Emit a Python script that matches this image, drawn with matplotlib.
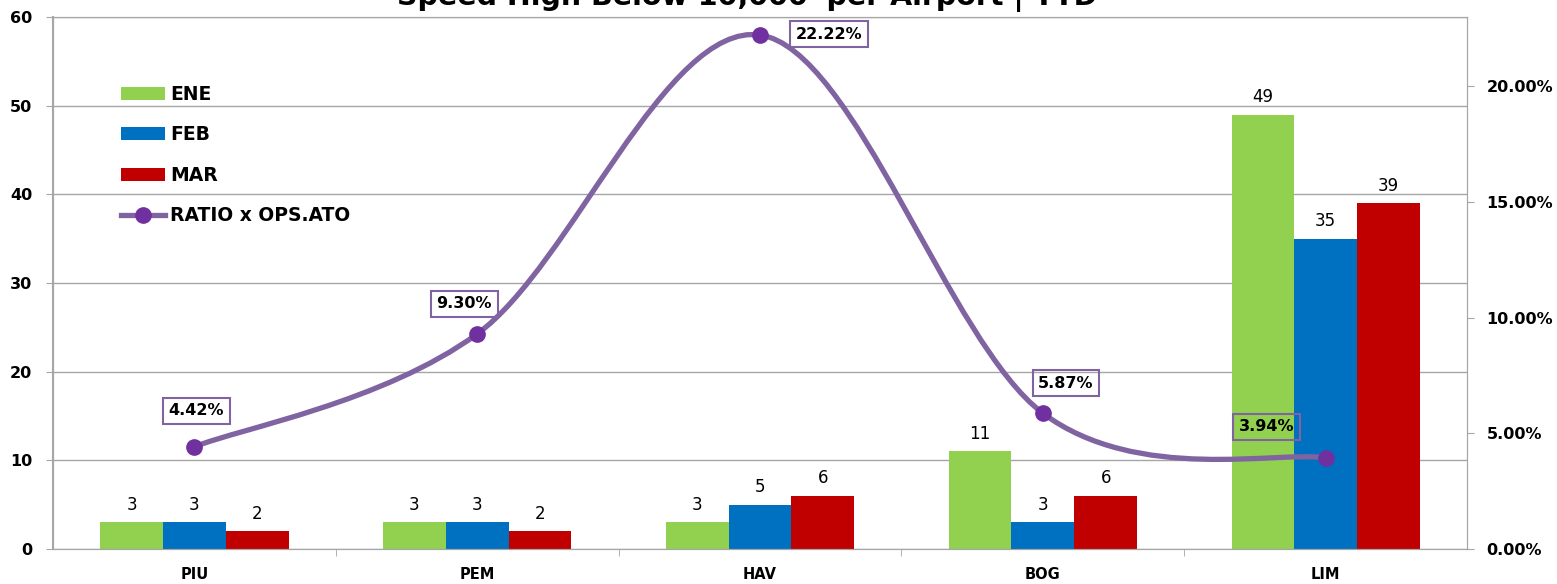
import numpy as np
import matplotlib.pyplot as plt
from matplotlib.path import Path
from matplotlib.patches import PathPatch, Patch
from matplotlib.lines import Line2D
from matplotlib.ticker import PercentFormatter

airports = ["PIU", "PEM", "HAV", "BOG", "LIM"]
ene = [3, 3, 3, 11, 49]
feb = [3, 3, 5, 3, 35]
mar = [2, 2, 6, 6, 39]
ratio = [0.0442, 0.0930, 0.2222, 0.0587, 0.0394]

series = [("ENE", ene, "#92D050"), ("FEB", feb, "#0070C0"), ("MAR", mar, "#C00000")]
line_color = "#8064A2"
marker_color = "#7030A0"
grid_color = "#A6A6A6"

# label offsets in pixels (dx, dy) from each ratio point
label_offsets = [(2, 36), (-13, 30), (69, 1), (23, 30), (-59, 31)]


def smooth_path(xs, ys):
    # cubic bezier through every point, Catmull-Rom style tangents
    pts = np.column_stack([xs, ys])
    n = len(pts)
    verts = [pts[0]]
    codes = [Path.MOVETO]
    for i in range(n - 1):
        p0 = pts[max(i - 1, 0)]
        p1 = pts[i]
        p2 = pts[i + 1]
        p3 = pts[min(i + 2, n - 1)]
        c1 = p1 + (p2 - p0) / 6
        c2 = p2 - (p3 - p1) / 6
        verts += [c1, c2, p2]
        codes += [Path.CURVE4] * 3
    return Path(verts, codes)


fig = plt.figure(figsize=(15.57, 5.84), dpi=100)
ax = fig.add_axes([0.034, 0.0599, 0.9083, 0.911])
ax2 = ax.twinx()

x = np.arange(len(airports))
width = 0.222
for i, (name, vals, color) in enumerate(series):
    bars = ax.bar(x + (i - 1) * width, vals, width, color=color, label=name, zorder=2)
    ax.bar_label(bars, fmt="%d", padding=6, fontsize=12)

ax.set_xlim(-0.5, len(airports) - 0.5)
ax.set_ylim(0, 60)
ax.set_yticks(range(0, 61, 10))
ax.set_xticks(x)
ax.set_xticklabels(airports, fontsize=10.5, fontweight="bold")
ax.set_xticks(np.arange(0.5, len(airports) - 0.5), minor=True)
ax.tick_params(axis="x", which="major", length=0, pad=13)
ax.tick_params(axis="x", which="minor", length=5, color=grid_color)
ax.tick_params(axis="y", length=5, color=grid_color, labelsize=11.5, pad=10)
for lab in ax.get_yticklabels():
    lab.set_fontweight("bold")
ax.grid(axis="y", color=grid_color, lw=1, zorder=0)
ax.set_axisbelow(True)
for side in ["left", "right", "bottom", "top"]:
    ax.spines[side].set_color(grid_color)
    ax2.spines[side].set_color(grid_color)
ax.spines["left"].set_linewidth(1.5)

ax2.set_ylim(0, 0.23)
ax2.set_yticks([0, 0.05, 0.10, 0.15, 0.20])
ax2.yaxis.set_major_formatter(PercentFormatter(1.0, decimals=2))
ax2.tick_params(axis="y", length=5, color=grid_color, labelsize=11.5, pad=9)
for lab in ax2.get_yticklabels():
    lab.set_fontweight("bold")

curve = PathPatch(smooth_path(x, ratio), facecolor="none", edgecolor=line_color,
                  lw=3.8, capstyle="round", zorder=3)
ax2.add_patch(curve)
ax2.plot(x, ratio, "o", color=marker_color, markersize=11, zorder=4)

for xi, r, (dx, dy) in zip(x, ratio, label_offsets):
    ax2.annotate(f"{r * 100:.2f}%", (xi, r), xytext=(dx, dy), textcoords="offset pixels",
                 ha="center", va="center", fontsize=11.5, fontweight="bold",
                 bbox=dict(boxstyle="square,pad=0.35", facecolor="none",
                           edgecolor=line_color, lw=1.5), zorder=5)

handles = [Patch(facecolor=c, label=n) for n, _, c in series]
handles.append(Line2D([], [], color=line_color, lw=3.8, marker="o", markersize=11,
                      markerfacecolor=marker_color, markeredgecolor=marker_color,
                      label="RATIO x OPS.ATO"))
ax2.legend(handles=handles, loc="upper left", bbox_to_anchor=(0.078, 0.855),
           bbox_transform=fig.transFigure, frameon=False, borderpad=0,
           borderaxespad=0, handlelength=2.3, handleheight=0.7, handletextpad=0.3,
           labelspacing=1.15, prop=dict(size=13.5, weight="bold"))

fig.text(0.48, 1 - 5 / 584, "Speed High Below 10,000' per Airport | YTD", ha="center",
         va="baseline", fontsize=20.5, fontweight="bold")

fig.savefig("out.png", dpi=100)
